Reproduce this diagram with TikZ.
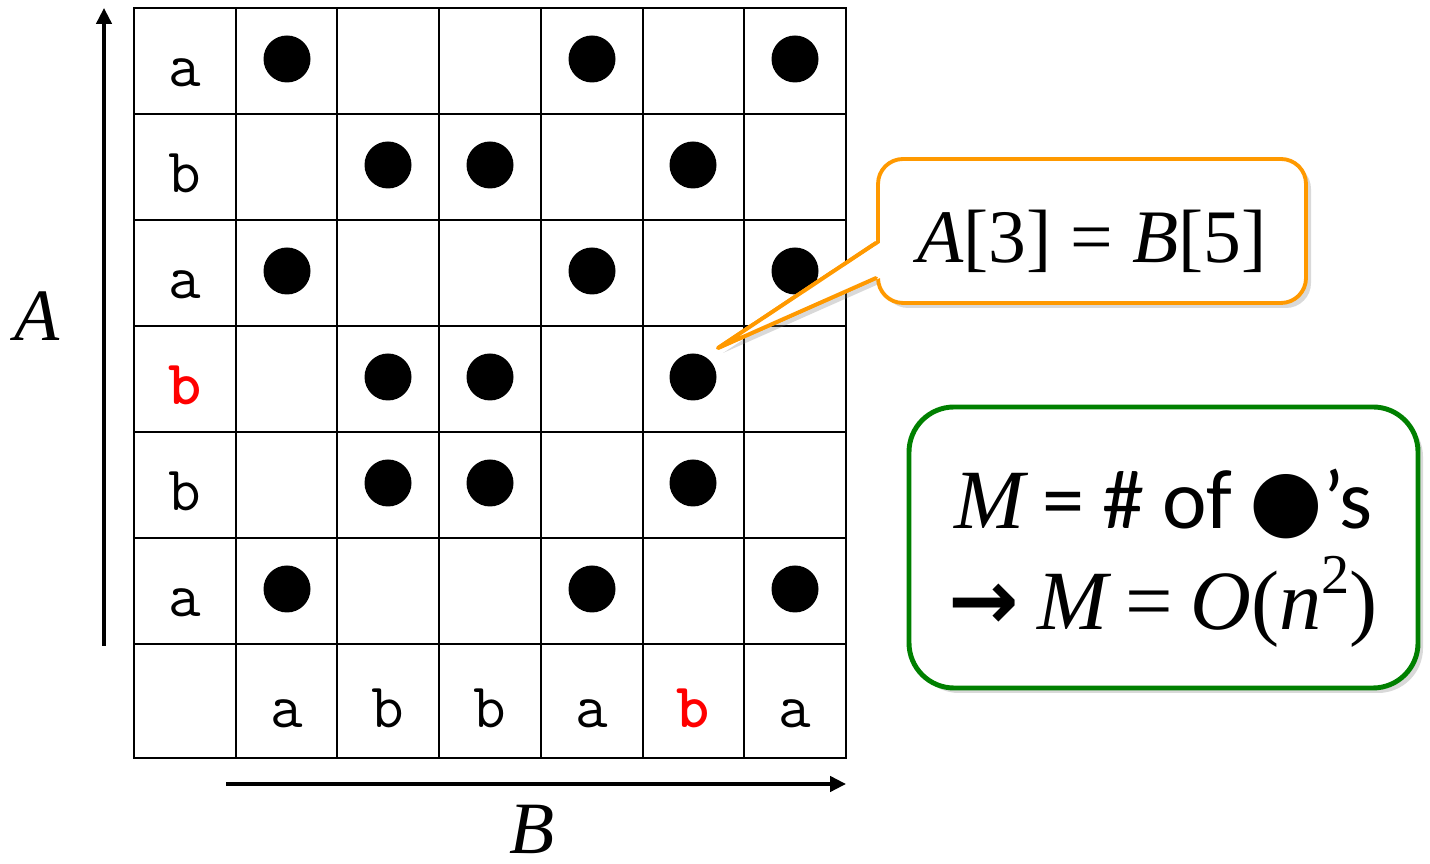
\documentclass[tikz,border=0pt]{standalone}
\usepackage{fontspec}
\setmainfont{Liberation Serif}
\newfontfamily\sansfont{Carlito}
\newfontfamily\symfont{DejaVu Sans}
\usetikzlibrary{calc}
\usetikzlibrary{arrows.meta}
\usetikzlibrary{shadows}
\usepackage{xcolor}
\definecolor{red}{RGB}{255,0,0}
\definecolor{orange}{RGB}{255,153,0}
\definecolor{green}{RGB}{0,128,0}

\begin{document}
\begin{tikzpicture}[
		gr/.style = {line width=0.7pt},
		ch/.style = {anchor=base, inner sep=0pt, font=\fontsize{18}{18}\selectfont\ttfamily},
		hit/.style = {ch, text=red, font=\fontsize{18}{18}\selectfont\ttfamily\bfseries},
		dot/.style = {circle, fill=black, inner sep=0pt, minimum size=0.47cm},
		ax/.style = {-{Triangle[length=4.5pt, width=4.3pt]}, line width=1pt},
		lbl/.style = {anchor=base, inner sep=0pt, font=\fontsize{21}{21}\selectfont\itshape},
		cl/.style = {draw=orange, line width=1.1pt, line join=round, line cap=round},
		sh/.style = {drop shadow={shadow xshift=0.05cm, shadow yshift=-0.05cm, opacity=0.3}},
		cb/.style = {cl, sh, rectangle, rounded corners=0.25cm, fill=white, minimum width=4.28cm, minimum height=1.44cm, text height=22pt, text depth=4pt, font=\fontsize{21.5}{21.5}\selectfont},
		mb/.style = {rectangle, sh, draw=green, line width=1.4pt, rounded corners=0.45cm, fill=white, minimum width=5.09cm, minimum height=2.81cm, align=center, text height=52pt, text depth=5.5pt, font=\fontsize{24}{28.7}\selectfont}
		]
		\useasboundingbox (0, 0) rectangle (14.30, 8.64);
		
		
		% === === Grid === ===
		\draw[gr]	(1.34, 1.06) rectangle (8.46, 8.56);
		\draw[gr]	(1.34, 7.50) -- (8.46, 7.50)	(1.34, 6.44) -- (8.46, 6.44)	(1.34, 5.38) -- (8.46, 5.38)
					(1.34, 4.32) -- (8.46, 4.32)	(1.34, 3.26) -- (8.46, 3.26)	(1.34, 2.20) -- (8.46, 2.20);
		\draw[gr]	(2.36, 1.06) -- (2.36, 8.56)	(3.37, 1.06) -- (3.37, 8.56)	(4.39, 1.06) -- (4.39, 8.56)
					(5.41, 1.06) -- (5.41, 8.56)	(6.43, 1.06) -- (6.43, 8.56)	(7.44, 1.06) -- (7.44, 8.56);
		
		
		% === === Letters === ===
		\node[ch]	(a1)	at	(1.85, 7.77)	{a};
		\node[ch]	(a2)	at	(1.85, 6.71)	{b};
		\node[ch]	(a3)	at	(1.85, 5.65)	{a};
		\node[hit]	(a4)	at	(1.85, 4.59)	{b};
		\node[ch]	(a5)	at	(1.85, 3.53)	{b};
		\node[ch]	(a6)	at	(1.85, 2.47)	{a};
		
		\node[ch]	(b1)	at	(2.87, 1.36)	{a};
		\node[ch]	(b2)	at	(3.88, 1.36)	{b};
		\node[ch]	(b3)	at	(4.90, 1.36)	{b};
		\node[ch]	(b4)	at	(5.92, 1.36)	{a};
		\node[hit]	(b5)	at	(6.93, 1.36)	{b};
		\node[ch]	(b6)	at	(7.95, 1.36)	{a};
		
		
		% === === Dots === ===
		\node[dot]	(d11)	at	(2.87, 8.05)	{};
		\node[dot]	(d14)	at	(5.92, 8.05)	{};
		\node[dot]	(d16)	at	(7.95, 8.05)	{};
		\node[dot]	(d22)	at	(3.88, 6.99)	{};
		\node[dot]	(d23)	at	(4.90, 6.99)	{};
		\node[dot]	(d25)	at	(6.93, 6.99)	{};
		\node[dot]	(d31)	at	(2.87, 5.93)	{};
		\node[dot]	(d34)	at	(5.92, 5.93)	{};
		\node[dot]	(d36)	at	(7.95, 5.93)	{};
		\node[dot]	(d42)	at	(3.88, 4.87)	{};
		\node[dot]	(d43)	at	(4.90, 4.87)	{};
		\node[dot]	(d45)	at	(6.93, 4.87)	{};
		\node[dot]	(d52)	at	(3.88, 3.81)	{};
		\node[dot]	(d53)	at	(4.90, 3.81)	{};
		\node[dot]	(d55)	at	(6.93, 3.81)	{};
		\node[dot]	(d61)	at	(2.87, 2.75)	{};
		\node[dot]	(d64)	at	(5.92, 2.75)	{};
		\node[dot]	(d66)	at	(7.95, 2.75)	{};
		
		
		% === === Axes === ===
		\coordinate	(ys)	at	(1.04, 2.18);
		\coordinate	(ye)	at	(1.04, 8.56);
		\coordinate	(xs)	at	(2.26, 0.80);
		\coordinate	(xe)	at	(8.46, 0.80);
		\draw[ax]	(ys) -- (ye);
		\draw[ax]	(xs) -- (xe);
		\node[lbl]	(la)	at	(0.37, 5.23)	{A};
		\node[lbl]	(lb)	at	(5.32, 0.10)	{B};
		
		
		% === === Callout === ===
		\coordinate	(p1)	at	(8.76, 6.21);
		\coordinate	(p2)	at	(8.76, 5.86);
		\coordinate	(tip)	at	($(d45.center)+(0.25, 0.29)$);
		\draw[cl, sh, fill=white]	(p1) -- (tip) -- (p2);
		\node[cb]	(eq)	at	(10.92, 6.33)	{{\itshape A}[3] = {\itshape B}[5]};
		\fill[white]	($(p1)+(0.04, 0)$) -- (tip) -- ($(p2)+(0.04, 0)$) -- cycle;
		\draw[cl]	(p1) -- (tip) -- (p2);
		
		
		% === === Count === ===
		\node[mb]	(cnt)	at	(11.635, 3.165)
			{\spaceskip=0.21em\relax {\itshape M} {\sansfont = \# of }{\symfont ●}{\sansfont ’s}\\
			 \spaceskip=0.21em\relax {\symfont\bfseries →} {\itshape M} = {\itshape O}({\itshape n}\raisebox{0.42em}{\fontsize{16}{16}\selectfont 2})};
		
		
	\end{tikzpicture}
\end{document}
